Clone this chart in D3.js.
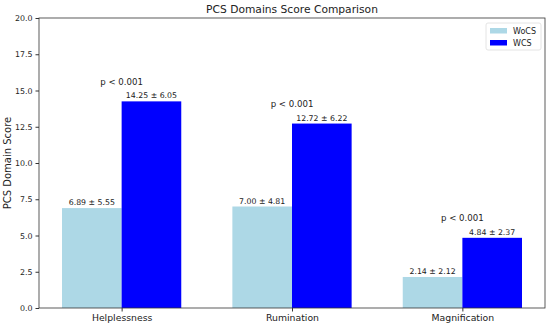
<!DOCTYPE html>
<html>
<head>
<meta charset="utf-8">
<script src="https://cdn.jsdelivr.net/npm/d3@7"></script>
<style>
  body { margin: 0; background: #fff; }
  text { font-family: "DejaVu Sans", sans-serif; fill: #222; }
</style>
</head>
<body>
<div id="chart"></div>
<script>
// PCS domain scores, mean and sd per group
const domains = ["Helplessness", "Rumination", "Magnification"];
const groups = ["WoCS", "WCS"];
const woMeans = [6.89, 7.00, 2.14];
const woSd = [5.55, 4.81, 2.12];
const wMeans = [14.25, 12.72, 4.84];
const wSd = [6.05, 6.22, 2.37];
const pLabels = ["p < 0.001", "p < 0.001", "p < 0.001"];
const yTicks = [0, 2.5, 5, 7.5, 10, 12.5, 15, 17.5, 20];
const colors = {WoCS: "#add8e6", WCS: "#0000ff"};

function drawChart() {
  const W = 550, H = 328;
  const margin = {top: 18, right: 5, bottom: 20, left: 39};
  const w = W - margin.left - margin.right,
        h = H - margin.top - margin.bottom;
  const barW = 0.35;

  const svg = d3.select("#chart").append("svg")
      .attr("width", W).attr("height", H);
  const g = svg.append("g")
      .attr("transform", "translate(" + margin.left + "," + margin.top + ")");

  // numeric x scale like matplotlib, with 5% margins
  const x = d3.scaleLinear().domain([-0.485, 2.485]).range([0, w]);
  const y = d3.scaleLinear().domain([0, 20]).range([h, 0]);

  const rows = [];
  domains.forEach(function(d, i) {
    rows.push({i: i, grp: "WoCS", off: -barW / 2, m: woMeans[i], sd: woSd[i]});
    rows.push({i: i, grp: "WCS", off: barW / 2, m: wMeans[i], sd: wSd[i]});
  });

  g.selectAll("rect.bar")
    .data(rows)
    .enter().append("rect")
    .attr("class", "bar")
    .attr("x", d => x(d.i + d.off - barW / 2))
    .attr("width", x(barW) - x(0))
    .attr("y", d => y(d.m))
    .attr("height", d => y(0) - y(d.m))
    .attr("fill", d => colors[d.grp]);

  g.selectAll("text.val")
    .data(rows)
    .enter().append("text")
    .attr("class", "val")
    .attr("x", d => x(d.i + d.off))
    .attr("y", d => y(d.m) - 3)
    .attr("text-anchor", "middle")
    .style("font-size", "7.8px")
    .text(d => d.m.toFixed(2) + " \u00b1 " + d.sd.toFixed(2));

  g.selectAll("text.p")
    .data(domains)
    .enter().append("text")
    .attr("class", "p")
    .attr("x", (d, i) => x(i))
    .attr("y", (d, i) => y(Math.max(woMeans[i], wMeans[i])) - 16.5)
    .attr("text-anchor", "middle")
    .style("font-size", "8.6px")
    .text((d, i) => pLabels[i]);

  // axes
  const yAxis = d3.axisLeft(y).tickValues(yTicks)
      .tickFormat(d3.format(".1f")).tickSize(3.5).tickPadding(3);
  const gY = g.append("g").call(yAxis);
  const xAxis = d3.axisBottom(x).tickValues([0, 1, 2])
      .tickFormat(i => domains[i]).tickSize(3.5).tickPadding(3);
  const gX = g.append("g").attr("transform", "translate(0," + h + ")").call(xAxis);
  [gX, gY].forEach(function(a) {
    a.select(".domain").remove();
    a.selectAll("line").attr("stroke", "#333");
    a.selectAll("text").style("font-family", "DejaVu Sans, sans-serif").attr("fill", "#222");
  });
  gY.selectAll("text").style("font-size", "7.9px");
  gX.selectAll("text").style("font-size", "9.3px");

  g.append("rect")
    .attr("width", w).attr("height", h)
    .attr("fill", "none").attr("stroke", "#333").attr("stroke-width", 0.8);

  svg.append("text")
    .attr("x", margin.left + w / 2).attr("y", 12.5)
    .attr("text-anchor", "middle")
    .style("font-size", "10.7px")
    .text("PCS Domains Score Comparison");

  svg.append("text")
    .attr("transform", "translate(10.5," + (margin.top + h / 2) + ") rotate(-90)")
    .attr("text-anchor", "middle")
    .style("font-size", "10px")
    .text("PCS Domain Score");

  // legend
  const leg = g.append("g").attr("transform", "translate(" + (w - 59) + ",5)");
  leg.append("rect")
    .attr("width", 55).attr("height", 27).attr("rx", 2)
    .attr("fill", "#fff").attr("stroke", "#ddd").attr("stroke-width", 0.8);
  groups.forEach(function(gname, i) {
    leg.append("rect")
      .attr("x", 4).attr("y", 5 + i * 12)
      .attr("width", 17).attr("height", 5.5)
      .attr("fill", colors[gname]);
    leg.append("text")
      .attr("x", 27).attr("y", 10.5 + i * 12)
      .style("font-size", "8px")
      .text(gname);
  });
}

drawChart();
</script>
</body>
</html>
